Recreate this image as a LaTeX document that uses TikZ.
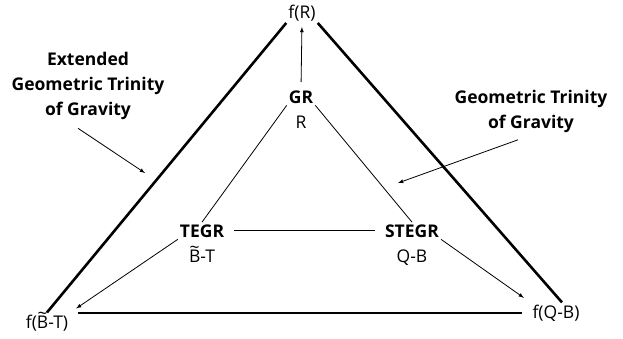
\documentclass[tikz,border=0pt]{standalone}
\usepackage{fontspec}
\setmainfont{Open Sans}
\usetikzlibrary{arrows,calc,positioning}
\newcommand\lbl{\fontsize{17.5}{25}\selectfont}
\newcommand\Btld{\ooalign{B\cr\hidewidth\raisebox{0.5em}{\char"7E}\hidewidth\cr}}
\tikzset{
    theory/.style = {font=\lbl\bfseries, inner sep=2pt, anchor=base},
    formula/.style = {font=\lbl, inner sep=2pt, anchor=base},
    corner/.style = {font=\lbl, inner sep=2pt, anchor=base},
    caption/.style = {font=\lbl\bfseries, align=center},
    link/.style = {line width=0.8pt},
    frame/.style = {line width=2.6pt},
}
\begin{document}
\begin{tikzpicture}[x=1pt, y=-1pt, >=latex, font=\lbl]
	\useasboundingbox (0,0) rectangle (623,338);
	
	% inner trinity
	\node (gr) [theory] at (301,103) {GR};
	\node (grF) [formula] at ([yshift=-25pt]gr.base) {R};
	\node (tegr) [theory] at (202,237) {TEGR};
	\node (tegrF) [formula] at ([yshift=-25pt]tegr.base) {\Btld-T};
	\node (stegr) [theory] at (412,237) {STEGR};
	\node (stegrF) [formula] at ([yshift=-25pt]stegr.base) {Q-B};
	
	% extended corners
	\node (fR) [corner] at (302,18) {f(R)};
	\node (fBT) [corner] at (47,328) {f(\Btld-T)};
	\node (fQB) [corner] at (556,318) {f(Q-B)};
	
	% captions
	\node (extLabel) [caption] at (88,86) {Extended\\Geometric Trinity\\of Gravity};
	\node (gtLabel) [caption] at (531,111) {Geometric Trinity\\of Gravity};
	\coordinate (extTip) at (145,173);
	\coordinate (gtTip) at (398,183);
	
	% trinity edges
	\draw[link] (gr.south west) -- (tegr.north);
	\draw[link] (gr.south east) -- (stegr.north);
	\draw[link, shorten <=8pt, shorten >=8pt] (tegr.east) -- (stegr.west);
	
	% extension arrows
	\draw[link, ->, shorten <=6pt, shorten >=4pt] (gr.north) -- (fR.south);
	\draw[link, ->, shorten >=7pt] (tegr.south west) -- (fBT.north east);
	\draw[link, ->, shorten >=8pt] (stegr.south east) -- (fQB.north west);
	
	% outer frame
	\draw[frame] (fR.south west) -- (fBT.north);
	\draw[frame] (fR.south east) -- ([xshift=6pt]fQB.north);
	\draw[frame, shorten <=8pt, shorten >=8pt] (fQB.west -| fBT.east) -- (fQB.west);
	
	% caption arrows
	\draw[link, ->] ($(extLabel.south)+(-10,5)$) -- (extTip);
	\draw[link, ->] ($(gtLabel.south)+(-13,4)$) -- (gtTip);
	
\end{tikzpicture}
\end{document}
